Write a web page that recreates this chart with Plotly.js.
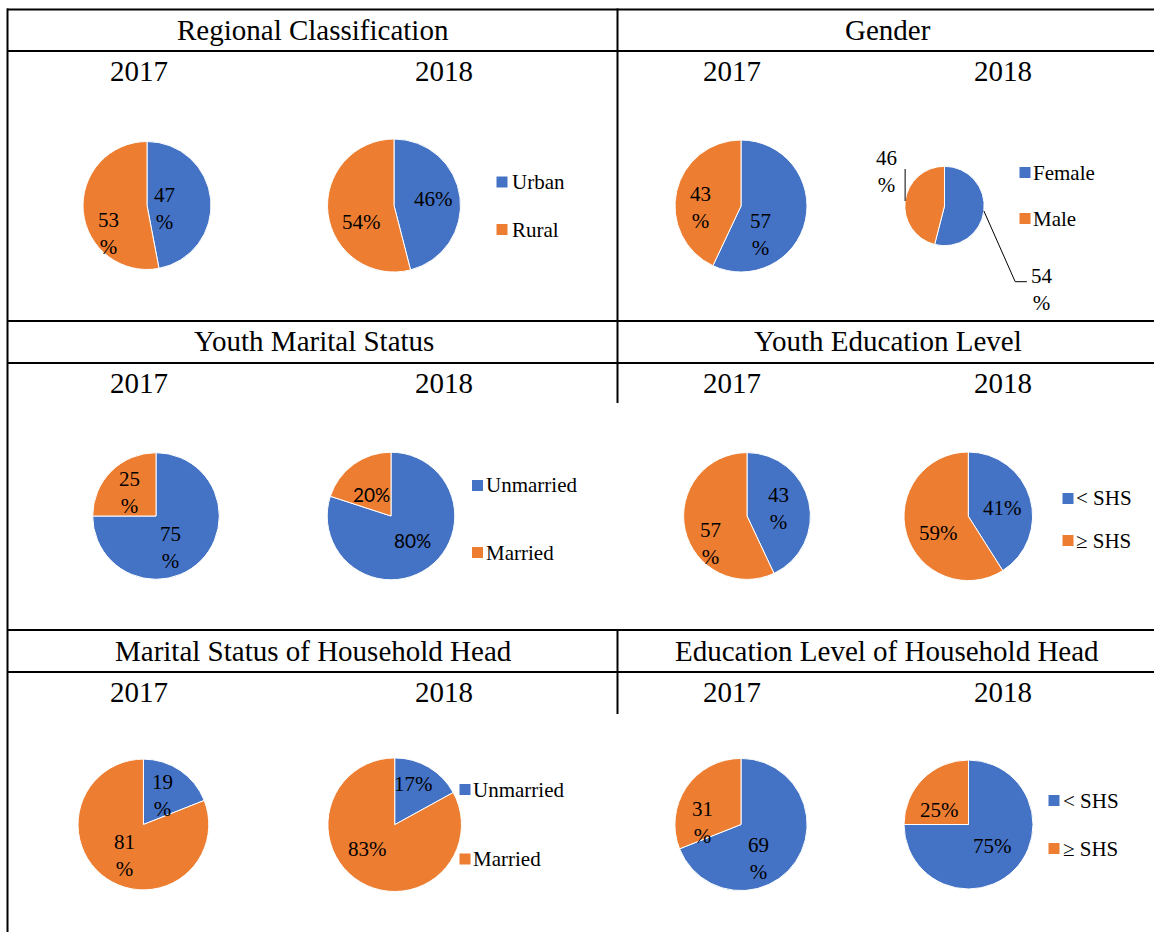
<!DOCTYPE html>
<html><head><meta charset="utf-8">
<script src="https://cdn.plot.ly/plotly-3.0.1.min.js"></script>
<style>html,body{margin:0;padding:0;background:#fff}</style>
</head><body><div id="chart" style="width:1154px;height:932px"></div>
<script>
// ---------- DATA ----------
const years = ['2017', '2018'];
const panelTitles = ['Regional Classification', 'Gender', 'Youth Marital Status',
  'Youth Education Level', 'Marital Status of Household Head', 'Education Level of Household Head'];

const regionalLabels = ['Urban', 'Rural'];
const regional2017 = [47, 53];
const regional2018 = [46, 54];

const genderLabels = ['Female', 'Male'];
const gender2017 = [57, 43];
const gender2018 = [54, 46];

const youthMaritalLabels = ['Unmarried', 'Married'];
const youthMarital2017 = [75, 25];
const youthMarital2018 = [80, 20];

const youthEduLabels = ['&lt; SHS', '≥ SHS'];
const youthEdu2017 = [43, 57];
const youthEdu2018 = [41, 59];

const hhMaritalLabels = ['Unmarried', 'Married'];
const hhMarital2017 = [19, 81];
const hhMarital2018 = [17, 83];

const hhEduLabels = ['&lt; SHS', '≥ SHS'];
const hhEdu2017 = [69, 31];
const hhEdu2018 = [75, 25];

// ---------- STYLE / LAYOUT ----------
const W = 1154, H = 932;
const BLUE = '#4472C4', ORANGE = '#ED7D31';
const SERIF = 'Liberation Serif';
const SANS = 'Lato';
const X = x => x / W;
const Y = y => 1 - y / H;

const panels = [
  { title: panelTitles[0], labels: regionalLabels, data: [regional2017, regional2018],
    titlePos: [313, 30.2], yearPos: [[139, 71.2], [444, 71.2]],
    pies: [
      { c: [147, 205.5, 64], wrap: true, font: SERIF, off: [[18, 3], [-39, 27.5]] },
      { c: [394, 205.5, 66.5], wrap: false, font: SERIF, off: [[39, -6.5], [-33, 16.5]] }],
    legend: { sq: 502, ys: [182, 229.5], tx: 512 } },
  { title: panelTitles[1], labels: genderLabels, data: [gender2017, gender2018],
    titlePos: [888, 30.2], yearPos: [[731.5, 71.2], [1002.5, 71.2]],
    pies: [
      { c: [741, 206, 66], wrap: true, font: SERIF, off: [[19, 29], [-41, 1]] },
      { c: [944.5, 206, 39.7], wrap: true, font: SERIF, off: [[97.5, 83.5], [-58, -34]],
        leaders: [[[31.3, 70.7], [43, 70.7]], [[0, -32]]] }],
    legend: { sq: 1025, ys: [172.5, 218.5], tx: 1033 } },
  { title: panelTitles[2], labels: youthMaritalLabels, data: [youthMarital2017, youthMarital2018],
    titlePos: [314, 341.2], yearPos: [[139, 383], [444, 383]],
    pies: [
      { c: [156, 516, 63.3], wrap: true, font: SERIF, off: [[14.5, 31.7], [-26.5, -24]] },
      { c: [391, 516, 63.8], wrap: false, font: SANS, size: 19, off: [[21.5, 24.5], [-20, -21.5]] }],
    legend: { sq: 477.5, ys: [485.5, 552.5], tx: 486 } },
  { title: panelTitles[3], labels: youthEduLabels, data: [youthEdu2017, youthEdu2018],
    titlePos: [888, 341.2], yearPos: [[731.5, 383], [1002.5, 383]],
    pies: [
      { c: [747, 516, 63.4], wrap: true, font: SERIF, off: [[31, -7.5], [-37, 27.5]] },
      { c: [968.3, 516.3, 64.3], wrap: false, font: SERIF, off: [[33.7, -8.8], [-30.3, 16.2]] }],
    legend: { sq: 1068, ys: [498.5, 540.5], tx: 1076 } },
  { title: panelTitles[4], labels: hhMaritalLabels, data: [hhMarital2017, hhMarital2018],
    titlePos: [313, 651.2], yearPos: [[139, 692], [444, 692]],
    pies: [
      { c: [143.4, 824.5, 65.4], wrap: true, font: SERIF, off: [[18.6, -29.5], [-19.4, 31]] },
      { c: [394.7, 824.7, 66.8], wrap: false, font: SERIF, off: [[18.8, -41.2], [-27.7, 24.3]] }],
    legend: { sq: 465, ys: [789.5, 859], tx: 473 } },
  { title: panelTitles[5], labels: hhEduLabels, data: [hhEdu2017, hhEdu2018],
    titlePos: [887, 651.2], yearPos: [[731.5, 692], [1002.5, 692]],
    pies: [
      { c: [741, 824.5, 66.1], wrap: true, font: SERIF, off: [[17, 33.5], [-39, -2.5]] },
      { c: [968.5, 824.5, 64.5], wrap: false, font: SERIF, off: [[23.5, 21.5], [-29, -15]] }],
    legend: { sq: 1054, ys: [800.5, 848.5], tx: 1063 } }
];

const traces = [];
const annotations = [];
const shapes = [];

function ann(text, x, y, size, family, xanchor) {
  annotations.push({ text: text, x: X(x), y: Y(y), xref: 'paper', yref: 'paper',
    xanchor: xanchor || 'center', yanchor: 'middle', showarrow: false, align: 'center',
    borderpad: 0, borderwidth: 0, font: { family: family || SERIF, size: size, color: '#000' } });
}
function line(x0, y0, x1, y1, w) {
  shapes.push({ type: 'line', xref: 'paper', yref: 'paper', x0: X(x0), y0: Y(y0), x1: X(x1), y1: Y(y1),
    line: { color: '#000', width: w || 2 } });
}

panels.forEach(p => {
  ann(p.title, p.titlePos[0], p.titlePos[1], 29);
  years.forEach((yr, i) => ann(yr, p.yearPos[i][0], p.yearPos[i][1], 29));
  p.pies.forEach((pie, i) => {
    const vals = p.data[i];
    const [cx, cy, r] = pie.c;
    traces.push({ type: 'pie', values: vals, labels: p.labels, sort: false, direction: 'clockwise',
      rotation: 0, textinfo: 'none', hoverinfo: 'none', showlegend: false,
      marker: { colors: [BLUE, ORANGE], line: { color: '#ffffff', width: 1 } },
      domain: { x: [X(cx - r), X(cx + r)], y: [Y(cy + r), Y(cy - r)] } });
    const total = vals.reduce((a, b) => a + b, 0);
    let cum = 0;
    vals.forEach((v, k) => {
      const txt = pie.wrap ? v + '<br>%' : v + '%';
      ann(txt, cx + pie.off[k][0], cy + pie.off[k][1], pie.size || 21, pie.font);
      if (pie.leaders) {
        // leader starts on the rim at the slice's mid-angle
        const th = 2 * Math.PI * (cum + v / 2) / total;
        const sx0 = cx + r * Math.sin(th), sy0 = cy - r * Math.cos(th);
        let sx = sx0, sy = sy0;
        pie.leaders[k].forEach(pt => {
          const ex = sx0 + pt[0], ey = sy0 + pt[1];
          line(sx, sy, ex, ey, 1);
          sx = ex; sy = ey;
        });
      }
      cum += v;
    });
  });
  // legend
  const sqs = 11;
  p.labels.forEach((lab, k) => {
    const yy = p.legend.ys[k];
    shapes.push({ type: 'rect', xref: 'paper', yref: 'paper', x0: X(p.legend.sq - sqs / 2), x1: X(p.legend.sq + sqs / 2),
      y0: Y(yy + sqs / 2), y1: Y(yy - sqs / 2), fillcolor: k === 0 ? BLUE : ORANGE, line: { width: 0 } });
    ann(lab, p.legend.tx, yy, 21, SERIF, 'left');
  });
});

// table rules
[9.5, 51, 321, 363, 630, 672].forEach(y => line(7, y, 1154, y, 2));
line(7.5, 8.5, 7.5, 932, 2);
line(617.5, 8.5, 617.5, 321, 2);
line(617.5, 321, 617.5, 403, 2);
line(617.5, 630, 617.5, 714, 2);

Plotly.newPlot('chart', traces, {
  width: W, height: H, margin: { l: 0, r: 0, t: 0, b: 0 },
  paper_bgcolor: '#ffffff', plot_bgcolor: '#ffffff',
  annotations: annotations, shapes: shapes, showlegend: false
}, { staticPlot: true, displayModeBar: false });
</script></body></html>
